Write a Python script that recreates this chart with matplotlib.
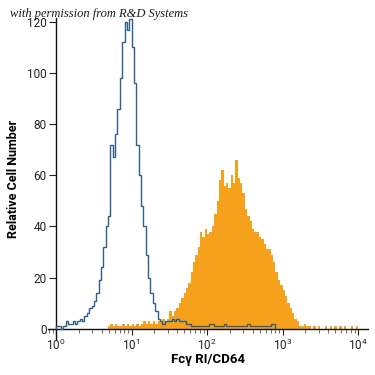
# fcgr1_histogram.py
# Flow cytometry overlay: Fc gamma RI/CD64 staining vs isotype control

import numpy as np
import matplotlib
matplotlib.use('Agg')
import matplotlib.pyplot as plt
from matplotlib.ticker import LogLocator, NullFormatter

# channel grid: 32 channels per decade, 10^0 .. 10^4
CHANNELS_PER_DECADE = 32
N_DECADES = 4

# isotype control (outline), channels 0..92
isotype_counts = [
    1, 1, 0, 1, 3, 2, 2, 3, 2, 3,
    4, 3, 5, 6, 8, 9, 11, 14, 19, 24,
    32, 40, 44, 72, 67, 76, 86, 98, 112, 120,
    117, 121, 110, 96, 72, 60, 48, 40, 29, 20,
    14, 10, 7, 4, 3, 2, 3, 3, 3, 4,
    3, 4, 3, 3, 3, 2, 2, 1, 1, 1,
    1, 1, 1, 1, 1, 2, 2, 1, 1, 1,
    1, 2, 1, 1, 1, 1, 1, 1, 1, 1,
    1, 2, 1, 1, 1, 1, 1, 1, 1, 1,
    1, 2, 2,
]

# CD64 stained cells (filled), starting at channel 22
stained_start = 22
stained_counts = [
    1, 2, 1, 2, 1, 1, 2, 1, 2, 1,
    2, 1, 2, 1, 2, 3, 2, 3, 2, 3,
    2, 3, 3, 4, 3, 4, 7, 5, 7, 8,
    10, 12, 14, 16, 18, 22, 26, 29, 32, 38,
    36, 39, 37, 38, 40, 45, 50, 58, 62, 56,
    57, 55, 60, 57, 66, 59, 57, 53, 47, 44,
    42, 39, 38, 38, 36, 35, 33, 31, 31, 29,
    26, 22, 19, 17, 15, 13, 10, 8, 6, 4,
    3, 1, 1, 2, 1, 1, 0, 1, 0, 1,
    0, 0, 1, 0, 1, 0, 1, 0, 1, 0,
    1, 0, 0, 1, 0, 1,
]

edges = np.logspace(0, N_DECADES, CHANNELS_PER_DECADE * N_DECADES + 1)

orange = '#f6a11c'
blue = '#2f5f86'
plt.rcParams['font.family'] = ['Roboto', 'DejaVu Sans']

fig = plt.figure(figsize=(3.75, 3.75), dpi=100)
ax = fig.add_axes([0.128, 0.096, 0.853, 0.856])

n_st = len(stained_counts)
ax.stairs(stained_counts, edges[stained_start:stained_start + n_st + 1],
          fill=True, color=orange, linewidth=0, zorder=2)
ax.stairs(isotype_counts, edges[:len(isotype_counts) + 1],
          color=blue, linewidth=1.0, zorder=3)

ax.set_xscale('log')
ax.set_xlim(0.78, 1.35e4)
ax.set_ylim(-4, 121.5)

# axes cross at (1, 0) like the original cytometry plot
ax.spines['left'].set_position(('data', 1))
ax.spines['bottom'].set_position(('data', 0))
ax.spines['top'].set_visible(False)
ax.spines['right'].set_visible(False)
for s in ('left', 'bottom'):
    ax.spines[s].set_linewidth(1.0)
    ax.spines[s].set_color('#111111')

ax.set_xticks([1, 10, 100, 1000, 10000])
ax.xaxis.set_minor_locator(LogLocator(base=10, subs=np.arange(2, 10)))
ax.xaxis.set_minor_formatter(NullFormatter())
ax.set_yticks([0, 20, 40, 60, 80, 100, 120])

ax.tick_params(axis='x', which='major', direction='out', length=4.5, width=0.8,
               labelsize=8.5, pad=2, colors='#222222')
ax.tick_params(axis='x', which='minor', direction='out', length=3, width=0.6,
               colors='#555555')
ax.tick_params(axis='y', direction='out', length=5, width=0.8,
               labelsize=8.5, pad=2, colors='#222222')

ax.set_xlabel('Fcγ RI/CD64', fontsize=9.5, fontweight='bold', labelpad=0)
ax.set_ylabel('Relative Cell Number', fontsize=9, fontweight='bold', labelpad=5)

fig.text(0.027, 0.962, 'with permission from R&D Systems', fontsize=9,
         family=['Liberation Serif', 'DejaVu Serif'], style='italic',
         color='#1a1a1a', ha='left', va='center', zorder=10)

plt.savefig('out.png', dpi=100)
